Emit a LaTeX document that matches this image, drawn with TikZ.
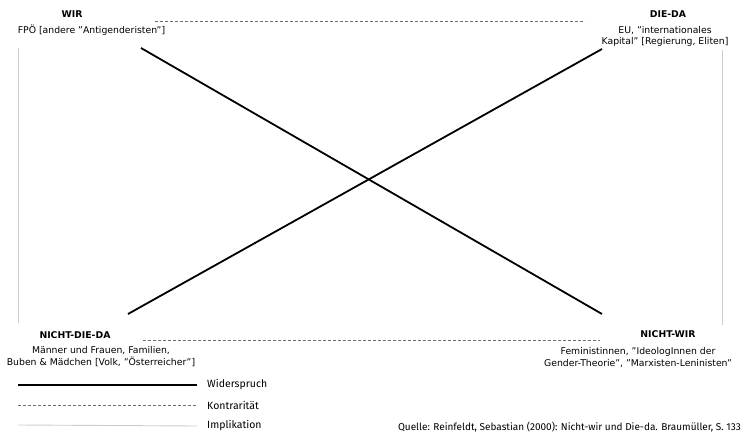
\documentclass[tikz,border=0pt]{standalone}
\usepackage{fontspec}
\setmainfont{DejaVu Sans}
\newfontfamily\legfont{Fira Sans}
\begin{document}
\begin{tikzpicture}[x=1pt,y=-1pt,
  title/.style={font=\fontsize{9.3}{11}\selectfont\bfseries, inner sep=0pt, anchor=center},
  body/.style={font=\fontsize{9.3}{11.5}\selectfont, inner sep=0pt, align=center, anchor=center},
  leg/.style={font=\legfont\fontsize{10.5}{12}\selectfont, inner sep=0pt, anchor=west},
  srcstyle/.style={font=\legfont\fontsize{10}{12}\selectfont, inner sep=0pt, anchor=east},
  contradiction/.style={line width=1.8pt, black},
  contrary/.style={gray!85!black, line width=0.5pt, dash pattern=on 3pt off 2pt},
  implication/.style={black!20, line width=0.9pt}]
\useasboundingbox (0,0) rectangle (746,435);
% corner labels
\node[title] (wir) at (72,14) {WIR};
\node[body] (wirtext) at (91.5,30) {FPÖ [andere "Antigenderisten"]};
\node[title] (dieda) at (668,14) {DIE-DA};
\node[body] (diedatext) at (665,36.5) {EU, "internationales\\Kapital" [Regierung, Eliten]};
\node[title] (ndd) at (75,335) {NICHT-DIE-DA};
\node[body] (nddtext) at (101,356.5) {Männer und Frauen, Familien,\\Buben \& Mädchen [Volk, "Österreicher"]};
\node[title] (nwir) at (668,334) {NICHT-WIR};
\node[body] (nwirtext) at (638,357.5) {Feministinnen, "IdeologInnen der\\Gender-Theorie", "Marxisten-Leninisten"};
% endpoints
\coordinate (wA) at (141,48);
\coordinate (nwA) at (602,314);
\coordinate (dA) at (602,49);
\coordinate (nddA) at (128,314);
\coordinate (topL) at (155,21);
\coordinate (topR) at (585,21);
\coordinate (botL) at (143,340);
\coordinate (botR) at (600,340);
\coordinate (leftT) at (18,48);
\coordinate (leftB) at (18,323);
\coordinate (rightT) at (722,50);
\coordinate (rightB) at (722,325);
% contradictions
\draw[contradiction] (wA) -- (nwA);
\draw[contradiction] (nddA) -- (dA);
% contrarieties
\draw[contrary] (topL) -- (topR);
\draw[contrary] (botL) -- (botR);
% implications
\draw[implication] (leftT) -- (leftB);
\draw[implication] (rightT) -- (rightB);
% legend
\node[leg] (lw) at (207,385) {Widerspruch};
\node[leg] (lk) at (207,405) {Kontrarität};
\node[leg] (li) at (207,426) {Implikation};
\coordinate (l1) at (18,385);
\coordinate (l2) at (18,405);
\coordinate (l3) at (18,425);
\draw[contradiction] (l1) -- (lw.west -| 197,0);
\draw[contrary] (l2) -- (lk.west -| 197,0);
\draw[implication] (l3) -- (li.west -| 197,0);
\node[srcstyle] (src) at (741,427) {Quelle: Reinfeldt, Sebastian (2000): Nicht-wir und Die-da. Braumüller, S. 133};
\end{tikzpicture}
\end{document}
